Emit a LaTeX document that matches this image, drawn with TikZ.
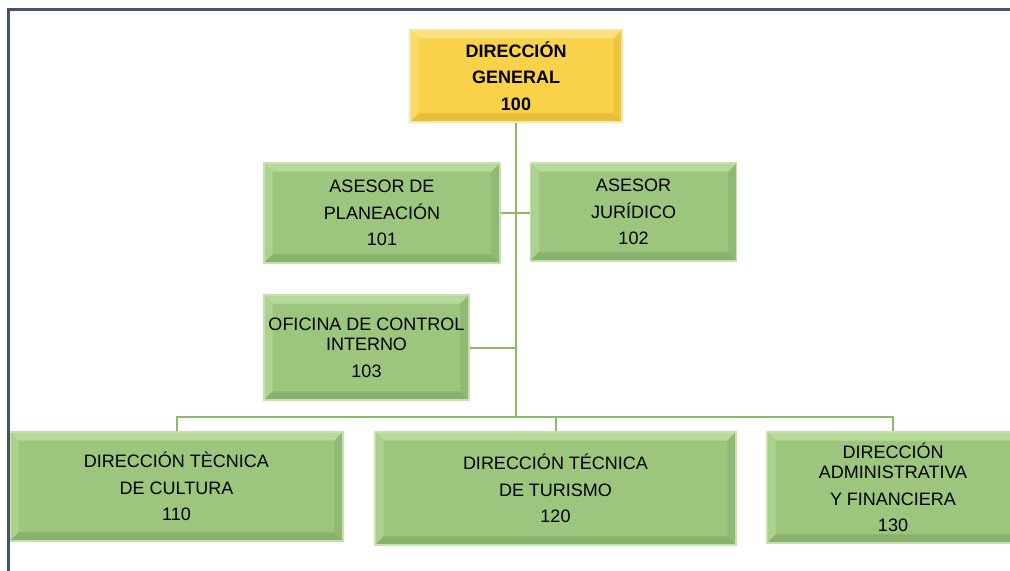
\documentclass[tikz,border=0pt]{standalone}
\usepackage{fontspec}
\setmainfont{Liberation Sans}
\usepackage{xcolor}
\usetikzlibrary{calc}

\definecolor{gmain}{HTML}{9CC67E}
\definecolor{glight}{HTML}{B6DB99}
\definecolor{gdark}{HTML}{88B16C}
\definecolor{gedge}{HTML}{C6E0B2}
\definecolor{ymain}{HTML}{F9D24A}
\definecolor{ylight}{HTML}{FBE17C}
\definecolor{ydark}{HTML}{E8BD38}
\definecolor{yedge}{HTML}{F6E6A6}
\definecolor{linegreen}{HTML}{8CBB68}
\definecolor{framec}{HTML}{44546A}

\tikzset{
  bevel/.style n args={4}{rectangle, fill=#1, draw=#4, line width=0.8pt,
    align=center, inner sep=0pt,
    path picture={
      \coordinate (nw) at (path picture bounding box.north west);
      \coordinate (ne) at (path picture bounding box.north east);
      \coordinate (sw) at (path picture bounding box.south west);
      \coordinate (se) at (path picture bounding box.south east);
      \fill[#2] (nw) -- (ne) -- ([shift={(-6.5pt,-6.5pt)}]ne) -- ([shift={(6.5pt,-6.5pt)}]nw) -- cycle;
      \fill[#2!60!#1] (nw) -- (sw) -- ([shift={(6.5pt,6.5pt)}]sw) -- ([shift={(6.5pt,-6.5pt)}]nw) -- cycle;
      \fill[#3] (sw) -- (se) -- ([shift={(-6.5pt,6.5pt)}]se) -- ([shift={(6.5pt,6.5pt)}]sw) -- cycle;
      \fill[#3!60!#1] (ne) -- (se) -- ([shift={(-6.5pt,6.5pt)}]se) -- ([shift={(-6.5pt,-6.5pt)}]ne) -- cycle;
    }},
  greenbox/.style={bevel={gmain}{glight}{gdark}{gedge}},
  yellowbox/.style={bevel={ymain}{ylight}{ydark}{yedge}, font=\fontsize{13.5}{20}\selectfont\bfseries},
  link/.style={draw=linegreen, line width=1.5pt}
}

\begin{document}
\begin{tikzpicture}[x=0.75pt,y=-0.75pt]
    % pixel-like units, y grows downwards
    \useasboundingbox (0,0) rectangle (1010,571);
    \clip (0,0) rectangle (1010,571);

    \begin{scope}[every node/.style={greenbox, font=\fontsize{13.5}{20}\selectfont}]
        \node [yellowbox, minimum width=159pt, minimum height=69pt] (g0) at (516,76) {DIRECCIÓN\\GENERAL\\100};
        \node [minimum width=177pt, minimum height=75pt] (a1) at (382,213) {ASESOR DE\\PLANEACIÓN\\101};
        \node [minimum width=155pt, minimum height=73.5pt] (a2) at (633.5,212) {ASESOR\\JURÍDICO\\102};
        \node [minimum width=153.75pt, minimum height=78.75pt] (c3) at (366.5,347.5) {OFICINA DE CONTROL\\[-5pt]INTERNO\\103};
        \node [minimum width=249.75pt, minimum height=81.75pt] (d1) at (176.5,486.5) {DIRECCIÓN TÈCNICA\\DE CULTURA\\110};
        \node [minimum width=270.75pt, minimum height=84.75pt] (d2) at (555.5,488.5) {DIRECCIÓN TÉCNICA\\DE TURISMO\\120};
        \node [minimum width=189pt, minimum height=83.25pt] (d3) at (893,487.5) {DIRECCIÓN\\[-5pt]ADMINISTRATIVA\\Y FINANCIERA\\130};
    \end{scope}

    \coordinate (bus) at (516,417);

    \begin{scope}[every path/.style={link}]
        \path (g0.south) edge (bus);
        \path (a1.east) edge (a1.east -| a2.west);
        \path (c3.east) edge (c3.east -| g0.south);
        \draw (d1.north) |- (bus) -| (d3.north);
        \path (d2.north) edge (d2.north |- bus);
    \end{scope}

    \draw [framec, line width=2.25pt] (7,9) -- (1010,9);
    \draw [framec, line width=2.25pt] (8,9) -- (8,571);
\end{tikzpicture}
\end{document}
